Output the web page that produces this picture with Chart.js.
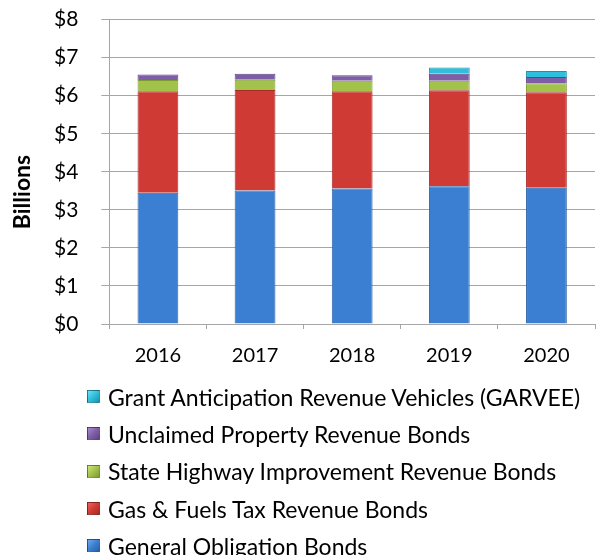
<!DOCTYPE html>
<html>
<head>
<meta charset="utf-8">
<script src="https://cdn.jsdelivr.net/npm/chart.js@4.4.0/dist/chart.umd.min.js"></script>
<style>
  body { margin: 0; background: #fff; font-family: "Lato", sans-serif; }
  #wrap { position: relative; width: 600px; height: 399px; margin-top: -16px; }
  #legend { position: absolute; left: 87px; top: 378px; }
  .item { display: flex; align-items: center; height: 37.3px; font-size: 23px; color: #000; }
  .sw { width: 11px; height: 11px; margin-right: 8px; border: 1px solid rgba(0,0,0,0.3); }
</style>
</head>
<body>
<div id="wrap"><canvas id="bonds"></canvas></div>
<div id="legend"></div>
<script>
const years = ["2016", "2017", "2018", "2019", "2020"];

// values in billions of dollars
const generalObligation = [3.45, 3.51, 3.56, 3.62, 3.58];
const gasFuelsTax = [2.67, 2.64, 2.56, 2.52, 2.51];
const stateHighway = [0.29, 0.27, 0.27, 0.25, 0.24];
const unclaimedProperty = [0.15, 0.16, 0.15, 0.19, 0.16];
const garvee = [0, 0, 0, 0.16, 0.16];

const yTicks = ["$0", "$1", "$2", "$3", "$4", "$5", "$6", "$7", "$8"];

// light / base / dark shades for the bevel look
const shades = {
  blue: ["#6ea9ec", "#3b7fd2", "#2a62a8"],
  red: ["#f0615c", "#d03a35", "#a82b27"],
  green: ["#cfe57a", "#a3c24a", "#7e9a33"],
  purple: ["#a88bcf", "#7f5ea8", "#5f4584"],
  cyan: ["#6fe0f2", "#2ebfdc", "#1d93ad"],
};

const barGradient = (shade) => (ctx) => {
  const chart = ctx.chart;
  if (!chart.chartArea || ctx.type !== "data") return shade[1];
  const meta = chart.getDatasetMeta(ctx.datasetIndex);
  const bar = meta.data[ctx.dataIndex];
  if (!bar || !bar.width) return shade[1];
  const g = chart.ctx.createLinearGradient(bar.x - bar.width / 2, 0, bar.x + bar.width / 2, 0);
  g.addColorStop(0, shade[0]);
  g.addColorStop(0.15, shade[1]);
  g.addColorStop(0.8, shade[1]);
  g.addColorStop(1, shade[2]);
  return g;
};

const series = [
  { label: "General Obligation Bonds", data: generalObligation, shade: shades.blue },
  { label: "Gas & Fuels Tax Revenue Bonds", data: gasFuelsTax, shade: shades.red },
  { label: "State Highway Improvement Revenue Bonds", data: stateHighway, shade: shades.green },
  { label: "Unclaimed Property Revenue Bonds", data: unclaimedProperty, shade: shades.purple },
  { label: "Grant Anticipation Revenue Vehicles (GARVEE)", data: garvee, shade: shades.cyan },
];

// rotated axis title, drawn a bit below the middle like the original
const axisTitle = {
  id: "axisTitle",
  afterDraw(chart) {
    const c = chart.ctx;
    c.save();
    c.translate(23, 208);
    c.rotate(-Math.PI / 2);
    c.font = "bold 23px Lato";
    c.fillStyle = "#000";
    c.textAlign = "center";
    c.textBaseline = "middle";
    c.fillText("Billions", 0, 0);
    c.restore();
  },
};

const ctx = document.getElementById("bonds").getContext("2d");

const bondsChart = new Chart(ctx, {
  type: "bar",
  data: {
    labels: years,
    datasets: series.map((s) => ({
      label: s.label,
      data: s.data,
      backgroundColor: barGradient(s.shade),
      borderColor: s.shade[2],
      borderWidth: 1,
      barPercentage: 0.42,
      categoryPercentage: 1,
    })),
  },
  options: {
    responsive: true,
    maintainAspectRatio: false,
    animation: false,
    layout: { padding: { top: 0, right: 5, left: 31, bottom: 0 } },
    plugins: {
      legend: { display: false },
      tooltip: { enabled: false },
    },
    scales: {
      x: {
        stacked: true,
        grid: { display: true, drawOnChartArea: false, tickLength: 5, color: "#a6a6a6" },
        border: { color: "#a6a6a6" },
        ticks: { color: "#000", font: { family: "Lato", size: 20 }, padding: 15 },
      },
      y: {
        stacked: true,
        min: 0,
        max: 8,
        grid: { color: "#a6a6a6", tickLength: 8 },
        border: { color: "#a6a6a6" },
        ticks: {
          stepSize: 1,
          color: "#000",
          padding: 23,
          font: { family: "Lato", size: 21 },
          callback: (v) => yTicks[v],
        },
      },
    },
  },
  plugins: [axisTitle],
});

// legend in reverse stacking order, one item per row
const legendEl = document.getElementById("legend");
series.slice().reverse().forEach((s) => {
  const row = document.createElement("div");
  row.className = "item";
  const sw = document.createElement("span");
  sw.className = "sw";
  sw.style.background = `linear-gradient(135deg, ${s.shade[0]}, ${s.shade[1]} 50%, ${s.shade[2]})`;
  row.appendChild(sw);
  row.appendChild(document.createTextNode(s.label));
  legendEl.appendChild(row);
});
</script>
</body>
</html>
